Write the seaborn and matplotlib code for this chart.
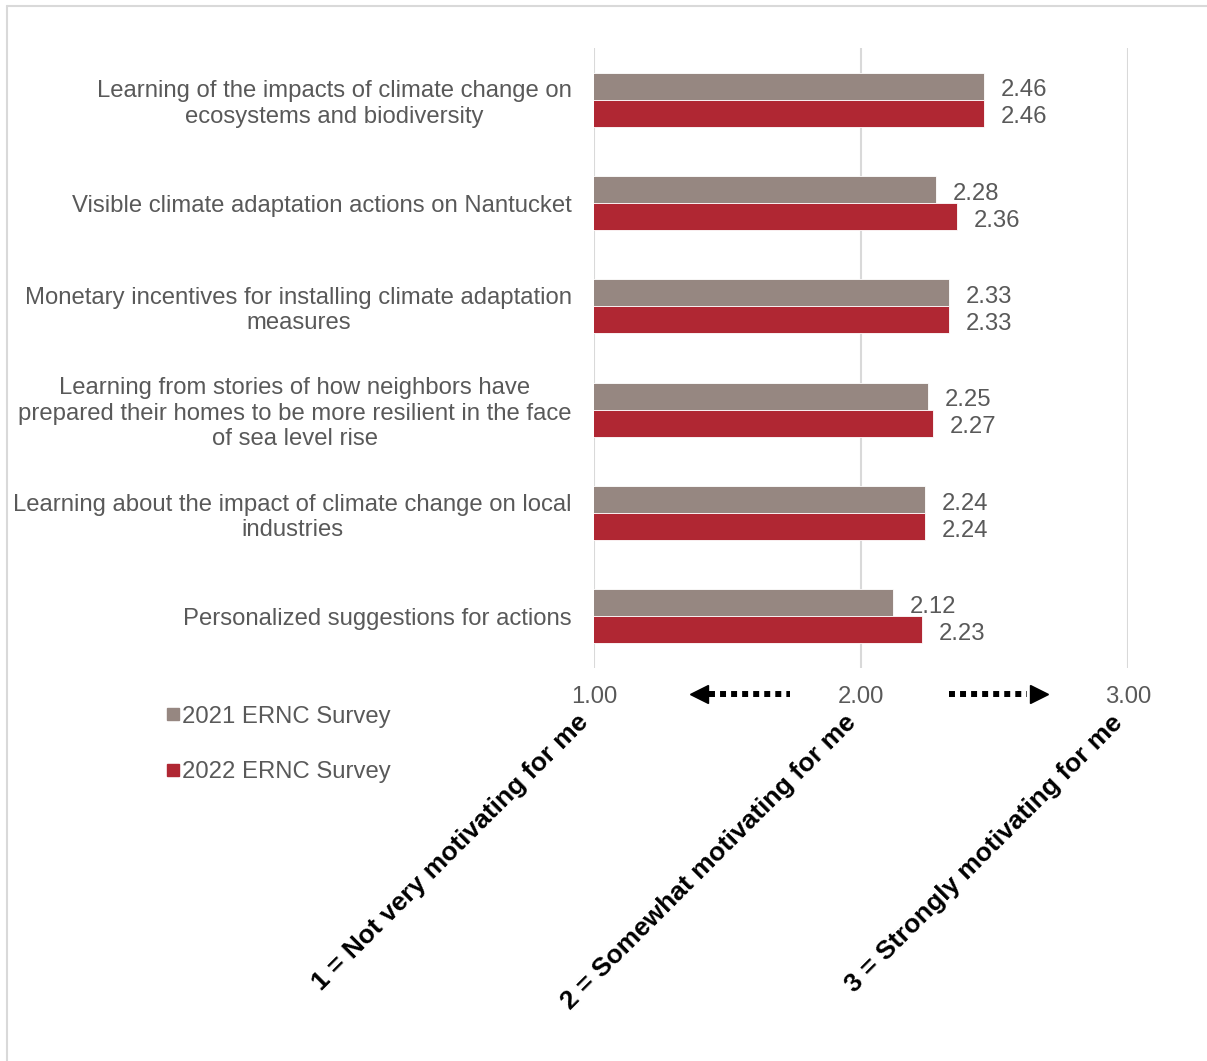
import matplotlib
matplotlib.use("Agg")
import matplotlib.pyplot as plt
from matplotlib.lines import Line2D
import seaborn as sns
import pandas as pd

categories = [
    "Learning of the impacts of climate change on\necosystems and biodiversity",
    "Visible climate adaptation actions on Nantucket",
    "Monetary incentives for installing climate adaptation\nmeasures",
    "Learning from stories of how neighbors have\nprepared their homes to be more resilient in the face\nof sea level rise",
    "Learning about the impact of climate change on local\nindustries",
    "Personalized suggestions for actions",
]
series_names = ["2021 ERNC Survey", "2022 ERNC Survey"]
values_2021 = [2.46, 2.28, 2.33, 2.25, 2.24, 2.12]
values_2022 = [2.46, 2.36, 2.33, 2.27, 2.24, 2.23]
x_ticks = [1.0, 2.0, 3.0]
scale_labels = [
    "1 = Not very motivating for me",
    "2 = Somewhat motivating for me",
    "3 = Strongly motivating for me",
]

colors = ["#968781", "#B02733"]
text_grey = "#595959"
grid_grey = "#D9D9D9"
fs = 17.2

df = pd.DataFrame({
    "item": categories * 2,
    "score": values_2021 + values_2022,
    "survey": [series_names[0]] * len(categories) + [series_names[1]] * len(categories),
})

sns.set_theme(style="white")
plt.rcParams["font.family"] = ["Liberation Sans", "DejaVu Sans"]

W, H = 1207, 1061
fig = plt.figure(figsize=(W / 100, H / 100), dpi=100)
ax = fig.add_axes([594 / W, 1 - 668 / H, (1128 - 594) / W, (668 - 48) / H])

sns.barplot(data=df, y="item", x="score", hue="survey", palette=colors,
            orient="h", width=0.52, dodge=True, ax=ax, legend=False,
            edgecolor="white", linewidth=0.6, saturation=1)

ax.set_xlim(1, 3)
ax.set_ylim(len(categories) - 0.5, -0.5)
ax.set_xticks(x_ticks)
ax.set_xticklabels([f"{t:.2f}" for t in x_ticks])
ax.grid(axis="x", color=grid_grey, linewidth=1.5)
ax.set_axisbelow(True)
for s in ax.spines.values():
    s.set_visible(False)
ax.set_xlabel("")
ax.set_ylabel("")
ax.tick_params(axis="x", length=0, pad=13, labelsize=fs, labelcolor=text_grey)
ax.tick_params(axis="y", length=0, pad=16, labelsize=fs, labelcolor=text_grey)
for lbl in ax.get_yticklabels():
    lbl.set_multialignment("center")
    lbl.set_linespacing(1.2)

# value labels, nudged slightly below the bar centre
for container in ax.containers:
    for t in ax.bar_label(container, fmt="%.2f", padding=12, fontsize=fs,
                          color=text_grey):
        t.xyann = (12, -3)

# scale descriptions under each tick
for x, txt in zip(x_ticks, scale_labels):
    ax.text(x - 0.065, -0.068, txt, transform=ax.get_xaxis_transform(),
            rotation=45, rotation_mode="anchor", ha="right", va="top",
            fontsize=19, fontweight="bold", color="black")

# dotted direction arrows beside the middle tick
y_arr = -0.042
tr = ax.get_xaxis_transform()
ax.plot([1.43, 1.735], [y_arr, y_arr], transform=tr, color="black",
        linewidth=4.3, linestyle=(0, (1, 0.85)), clip_on=False,
        dash_capstyle="butt")
ax.plot([1.395], [y_arr], transform=tr, marker="<", markersize=13, color="black",
        clip_on=False, linestyle="none")
ax.plot([2.33, 2.62], [y_arr, y_arr], transform=tr, color="black",
        linewidth=4.3, linestyle=(0, (1, 0.85)), clip_on=False,
        dash_capstyle="butt")
ax.plot([2.665], [y_arr], transform=tr, marker=">", markersize=13, color="black",
        clip_on=False, linestyle="none")

# legend
handles = [Line2D([0], [0], marker="s", linestyle="none", markersize=8.5,
                  markerfacecolor=c, markeredgecolor=c) for c in colors]
fig.legend(handles, series_names, loc="upper left",
           bbox_to_anchor=(156 / W, 1 - 696 / H), frameon=False,
           fontsize=fs, labelcolor=text_grey, handlelength=0.6,
           handletextpad=0.1, labelspacing=1.4, borderaxespad=0)

# figure frame (top and left edges)
fig.add_artist(Line2D([7 / W, 7 / W], [0, 1 - 6 / H], transform=fig.transFigure,
                      color=grid_grey, linewidth=1.5))
fig.add_artist(Line2D([7 / W, 1], [1 - 6 / H, 1 - 6 / H], transform=fig.transFigure,
                      color=grid_grey, linewidth=1.5))

fig.savefig("out.png", dpi=100, facecolor="white")
